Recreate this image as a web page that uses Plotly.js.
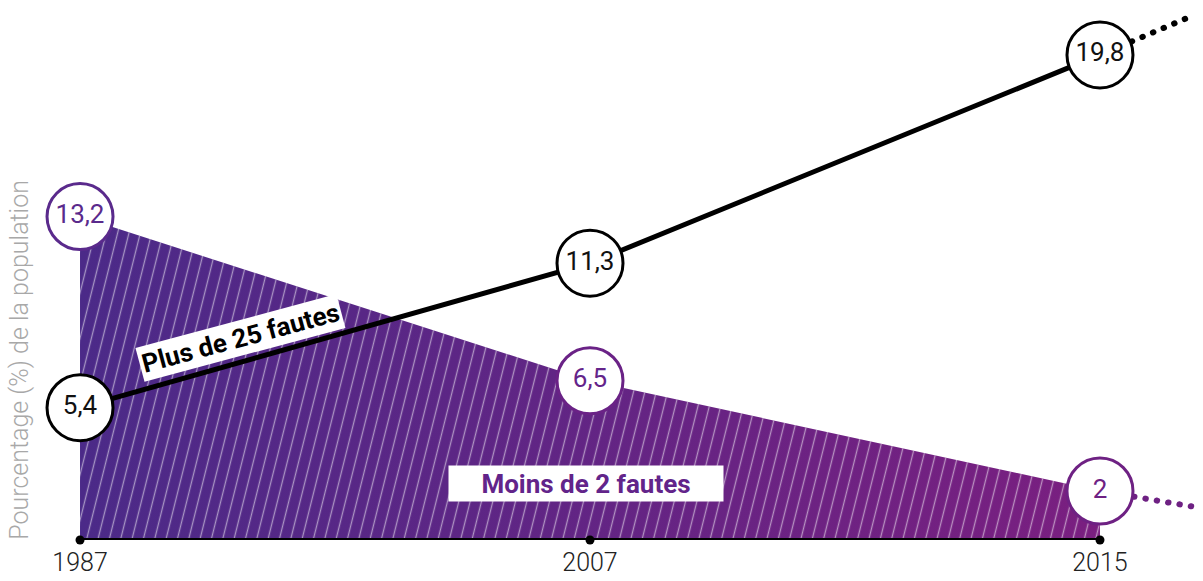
<!DOCTYPE html>
<html><head><meta charset="utf-8">
<script src="https://cdn.plot.ly/plotly-3.0.1.min.js"></script>
<style>
html,body{margin:0;padding:0;background:#fff;}
#chart{width:1203px;height:581px;}
.scatterlayer .trace:nth-child(1) path.js-line,.scatterlayer .trace:nth-child(2) path.js-line{stroke-linecap:round;}
</style>
</head><body><div id="chart"></div>
<script>
// Data
const years = ['1987', '2007', '2015'];
const plus25 = [5.4, 11.3, 19.8];      // Plus de 25 fautes
const moins2 = [13.2, 6.5, 2];         // Moins de 2 fautes
const plus25Trend = [19.8, 21.35];     // projection after 2015
const moins2Trend = [2, 1.35];
const yTitle = 'Pourcentage (%) de la population';
const labelPlus = 'Plus de 25 fautes';
const labelMoins = 'Moins de 2 fautes';

const xs = years.map((_, i) => i);
const fmt = v => String(v).replace('.', ',');
const purpleL = '#4b2a88', purpleR = '#7a1f80';

const traces = [
  // dotted projections
  {x: [2, 2.176], y: plus25Trend, mode: 'lines', line: {color: '#000', width: 6, dash: '0.5px,11px'}, hoverinfo: 'skip', cliponaxis: false},
  {x: [2, 2.186], y: moins2Trend, mode: 'lines', line: {color: '#6e2183', width: 6, dash: '0.5px,11px'}, hoverinfo: 'skip', cliponaxis: false},
  // gradient area
  {x: xs, y: moins2, mode: 'lines', fill: 'tozeroy', line: {width: 0, color: purpleL},
   fillgradient: {type: 'horizontal', colorscale: [[0, purpleL], [1, purpleR]]}, hoverinfo: 'skip'},
  // hatch overlay
  {x: xs, y: moins2, mode: 'lines', fill: 'tozeroy', line: {width: 0}, fillcolor: 'rgba(0,0,0,0)',
   fillpattern: {shape: '|', fgcolor: '#ffffff', bgcolor: 'rgba(0,0,0,0)', size: 11, solidity: 0.12, fgopacity: 0.5}, hoverinfo: 'skip'},
  // baseline
  {x: [xs[0], xs[xs.length-1]], y: [0, 0], mode: 'lines', line: {color: '#000', width: 4}, hoverinfo: 'skip'},
  {x: xs, y: xs.map(() => 0), mode: 'markers', marker: {color: '#000', size: 9}, hoverinfo: 'skip', cliponaxis: false},
  // Plus de 25 fautes line
  {x: xs, y: plus25, mode: 'lines+markers+text', line: {color: '#000', width: 5},
   marker: {size: 66, color: '#fff', line: {color: '#000', width: 3}},
   text: plus25.map(fmt), textposition: 'middle center',
   textfont: {family: 'Roboto', weight: 400, size: 26, color: '#111'}, cliponaxis: false},
  // Moins de 2 fautes circles
  {x: xs, y: moins2, mode: 'markers+text',
   marker: {size: 66, color: '#fff', line: {color: ['#5a2a8c', '#6a2286', '#6e2183'], width: 3}},
   text: moins2.map(fmt), textposition: 'middle center',
   textfont: {family: 'Roboto', weight: 400, size: 26, color: ['#5a2a8c', '#64248a', '#6e2183']}, cliponaxis: false}
];

const layout = {
  width: 1203, height: 581,
  margin: {l: 0, r: 0, t: 0, b: 41},
  paper_bgcolor: '#fff', plot_bgcolor: '#fff',
  showlegend: false,
  xaxis: {range: [-0.1569, 2.202], tickvals: xs, ticktext: years, showgrid: false, zeroline: false,
          showline: false, ticks: '', ticklabelstandoff: 5,
          tickfont: {family: 'Roboto', weight: 300, size: 25, color: '#222'}, fixedrange: true},
  yaxis: {range: [0, 22.04], showgrid: false, zeroline: false, showline: false, showticklabels: false, fixedrange: true},
  annotations: [
    {x: 0.314, y: 8.24, xref: 'x', yref: 'y', text: '<b>' + labelPlus + '</b>', showarrow: false, textangle: -15,
     font: {family: 'Roboto', size: 26, color: '#000'}, bgcolor: '#fff', borderpad: 2},
    {x: 0.992, y: 2.29, xref: 'x', yref: 'y', text: '<b>' + labelMoins + '</b>', showarrow: false,
     width: 272, height: 33, font: {family: 'Roboto', size: 26, color: '#62248a'}, bgcolor: '#fff'},
    {x: -0.118, y: 7.35, xref: 'x', yref: 'y', text: yTitle, showarrow: false, textangle: -90,
     font: {family: 'Roboto', weight: 300, size: 25, color: '#a8a8a8'}}
  ]
};
Plotly.newPlot('chart', traces, layout, {displayModeBar: false, staticPlot: true}).then(gd => {
  gd.querySelectorAll('defs pattern').forEach(p => p.setAttribute('patternTransform', 'rotate(14)'));
});
</script>
</body></html>
